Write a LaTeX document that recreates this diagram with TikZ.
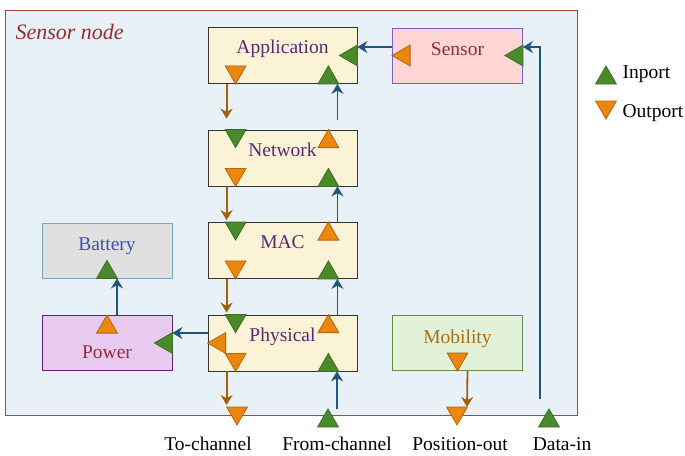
\documentclass[tikz,border=0pt]{standalone}
\usepackage{fontspec}
\setmainfont{Liberation Serif}
\usetikzlibrary{shapes.geometric, positioning, arrows.meta, calc}
\definecolor{nodebg}{HTML}{E8F0F8}
\definecolor{nodeframe}{HTML}{A84444}
\definecolor{titlered}{HTML}{962D2D}
\definecolor{layerfill}{HTML}{FBF3D6}
\definecolor{layertext}{HTML}{5A2870}
\definecolor{battfill}{HTML}{E0E0E0}
\definecolor{battframe}{HTML}{78A8C8}
\definecolor{batttext}{HTML}{4050B0}
\definecolor{powfill}{HTML}{E8C9F0}
\definecolor{powframe}{HTML}{5E2478}
\definecolor{sensfill}{HTML}{FDD5D5}
\definecolor{sensframe}{HTML}{7565C2}
\definecolor{mobfill}{HTML}{E2F2D8}
\definecolor{mobframe}{HTML}{628E48}
\definecolor{mobtext}{HTML}{B26C10}
\definecolor{inportfill}{HTML}{4A8A2A}
\definecolor{inportdraw}{HTML}{3B6E22}
\definecolor{outportfill}{HTML}{EC870E}
\definecolor{outportdraw}{HTML}{B8650A}
\definecolor{inflow}{HTML}{22557A}
\definecolor{outflow}{HTML}{A3600C}
\tikzset{
  container/.style={rectangle, minimum width=572pt, minimum height=405pt, draw=nodeframe, fill=nodebg, line width=0.8pt},
  layer/.style={rectangle, inner sep=0pt, minimum width=149pt, minimum height=56pt, text height=12pt, text depth=16pt, draw=black!80, fill=layerfill, text=layertext, line width=0.8pt},
  compbox/.style={rectangle, inner sep=0pt, minimum width=130pt, minimum height=55pt, text height=14pt, text depth=14pt, line width=0.8pt},
  battbox/.style={compbox, draw=battframe, fill=battfill, text=batttext},
  powerbox/.style={compbox, draw=powframe, fill=powfill, text=titlered, text height=34pt, text depth=4pt},
  sensorbox/.style={compbox, draw=sensframe, fill=sensfill, text=titlered},
  mobbox/.style={compbox, draw=mobframe, fill=mobfill, text=mobtext},
  port/.style={regular polygon, regular polygon sides=3, minimum size=24pt, inner sep=0pt, outer sep=0pt, line width=0.8pt},
  inport/.style={port, fill=inportfill, draw=inportdraw},
  outport/.style={port, fill=outportfill, draw=outportdraw},
  pointdown/.style={regular polygon rotate=180},
  pointleft/.style={regular polygon rotate=90},
  inflowarrow/.style={-{Stealth[length=10pt,width=12pt]}, line width=1.8pt, draw=inflow},
  outflowarrow/.style={-{Stealth[length=10pt,width=12pt]}, line width=1.8pt, draw=outflow}
}

\begin{document}
\begin{tikzpicture}[x=1pt, y=-1pt, every node/.style={font=\fontsize{19.5}{24}\selectfont}]
\useasboundingbox (0,0) rectangle (685,455);

% the sensor node itself
\node (sensornode) [container] at (291,212.5) {};
\node (title) [anchor=base west, font=\fontsize{22}{26}\selectfont\itshape, text=titlered] at (12,39) {Sensor node};

% protocol stack
\node (app) [layer] at (282.5,55.5) {Application};
\node (net) [layer] at (282.5,158) {Network};
\node (mac) [layer] at (282.5,250.5) {MAC};
\node (phy) [layer] at (282.5,343) {Physical};

% other components
\node (battery) [battbox] at (107,250.5) {Battery};
\node (power) [powerbox] at (107,343) {Power};
\node (sensor) [sensorbox] at (457.5,55.5) {Sensor};
\node (mobility) [mobbox] at (457.5,343) {Mobility};

% ports of the layers
\node (appoutlo) [outport, pointdown, anchor=corner 1] at ([xshift=28pt]app.south west) {};
\node (appinlo) [inport, anchor=side 2] at ([xshift=-29pt]app.south east) {};
\node (appsens) [inport, pointleft, anchor=side 2] at (app.east) {};

\node (netinhi) [inport, pointdown, anchor=side 2] at ([xshift=28pt]net.north west) {};
\node (netouthi) [outport, anchor=corner 1] at ([xshift=-29pt]net.north east) {};
\node (netoutlo) [outport, pointdown, anchor=corner 1] at ([xshift=28pt]net.south west) {};
\node (netinlo) [inport, anchor=side 2] at ([xshift=-29pt]net.south east) {};

\node (macinhi) [inport, pointdown, anchor=side 2] at ([xshift=28pt]mac.north west) {};
\node (macouthi) [outport, anchor=corner 1] at ([xshift=-29pt]mac.north east) {};
\node (macoutlo) [outport, pointdown, anchor=corner 1] at ([xshift=28pt]mac.south west) {};
\node (macinlo) [inport, anchor=side 2] at ([xshift=-29pt]mac.south east) {};

\node (phyinhi) [inport, pointdown, anchor=side 2] at ([xshift=28pt]phy.north west) {};
\node (phyouthi) [outport, anchor=corner 1] at ([xshift=-29pt]phy.north east) {};
\node (phypow) [outport, pointleft, anchor=corner 1] at (phy.west) {};
\node (phyoutlo) [outport, pointdown, anchor=corner 1] at ([xshift=28pt]phy.south west) {};
\node (phyinlo) [inport, anchor=side 2] at ([xshift=-29pt]phy.south east) {};

% ports of the components
\node (batin) [inport, anchor=side 2] at (battery.south) {};
\node (powout) [outport, anchor=corner 1] at (power.north) {};
\node (powin) [inport, pointleft, anchor=side 2] at (power.east) {};
\node (sensout) [outport, pointleft, anchor=corner 1] at (sensor.west) {};
\node (sensin) [inport, pointleft, anchor=side 2] at (sensor.east) {};
\node (mobout) [outport, pointdown, anchor=corner 1] at (mobility.south) {};

% ports of the sensor node
\node (tochan) [outport, pointdown, anchor=side 2] at (237,407) {};
\node (fromchan) [inport, anchor=side 2] at (328,427) {};
\node (posout) [outport, pointdown, anchor=side 2] at (457,407) {};
\node (datain) [inport, anchor=side 2] at (549,427) {};

\node (tochantxt) [anchor=base] at (208,450) {To-channel};
\node (fromchantxt) [anchor=base] at (337,450) {From-channel};
\node (posouttxt) [anchor=base] at (460,450) {Position-out};
\node (dataintxt) [anchor=base] at (562,450) {Data-in};

% down the stack
\draw [outflowarrow, shorten >=11pt] ([xshift=19pt]app.south west) -- ([xshift=19pt]net.north west);
\draw [outflowarrow, shorten >=2pt] ([xshift=19pt]net.south west) -- ([xshift=19pt]mac.north west);
\draw [outflowarrow, shorten >=2pt] ([xshift=19pt]mac.south west) -- ([xshift=19pt]phy.north west);
\draw [outflowarrow, shorten >=2pt] ([xshift=19pt]phy.south west) -- ([xshift=19pt]phy.south west |- tochan.north);
\draw [outflowarrow] ([xshift=10pt]mobility.south) -- ([xshift=10pt]posout.north);

% up the stack
\draw [inflowarrow, shorten <=10pt] ([xshift=-20pt]net.north east) -- ([xshift=-20pt]app.south east);
\draw [inflowarrow] ([xshift=-20pt]mac.north east) -- ([xshift=-20pt]net.south east);
\draw [inflowarrow] ([xshift=-20pt]phy.north east) -- ([xshift=-20pt]mac.south east);
\draw [inflowarrow] ([xshift=9pt]fromchan.north) -- ([xshift=9pt]fromchan.north |- phy.south);

% sensing and energy
\draw [inflowarrow] ([xshift=-9pt, yshift=10pt]datain.north) |- ([yshift=8.5pt]sensor.east);
\draw [inflowarrow] ([yshift=8.5pt]sensor.west) -- ([yshift=8.5pt]app.east);
\draw [inflowarrow] ([yshift=10pt]phy.west) -- ([yshift=10pt]power.east);
\draw [inflowarrow] ([xshift=10pt]power.north) -- ([xshift=10pt]battery.south);

% legend
\node (leginport) [inport, anchor=side 2] at (606,84) {};
\node (legoutport) [outport, pointdown, anchor=side 2] at (606,101) {};
\node (leginporttxt) [anchor=base west] at (619,78) {Inport};
\node (legoutporttxt) [anchor=base west] at (619,117) {Outport};
\end{tikzpicture}
\end{document}
